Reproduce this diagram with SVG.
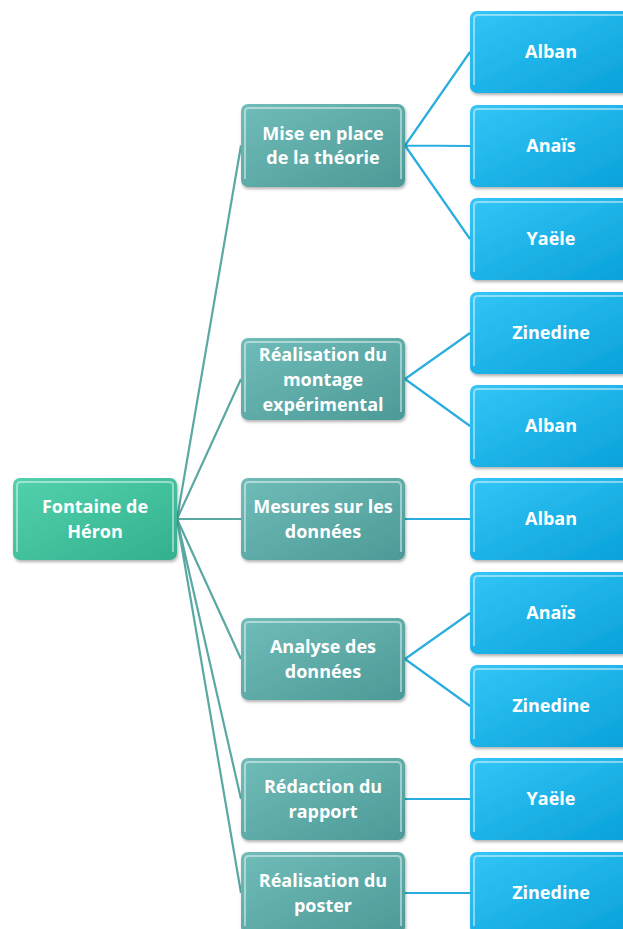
<svg xmlns="http://www.w3.org/2000/svg" width="623" height="929" viewBox="0 0 623 929">
<defs>
<linearGradient id="gRoot" x1="0" y1="0" x2="1" y2="1"><stop offset="0" stop-color="#52d2ac"/><stop offset="1" stop-color="#33b08e"/></linearGradient>
<linearGradient id="gMid" x1="0" y1="0" x2="1" y2="1"><stop offset="0" stop-color="#70bcb9"/><stop offset="1" stop-color="#4c9a97"/></linearGradient>
<linearGradient id="gLeaf" x1="0" y1="0" x2="1" y2="1"><stop offset="0" stop-color="#33c6f7"/><stop offset="1" stop-color="#08a0d8"/></linearGradient>
<filter id="sh" x="-10%" y="-10%" width="125%" height="130%"><feDropShadow dx="1" dy="2" stdDeviation="1.5" flood-color="#000" flood-opacity="0.3"/></filter>
</defs>
<style>
.box{filter:url(#sh)}
.hl{fill:none;stroke:#ffffff;stroke-opacity:0.45;stroke-width:2}
.t{font-family:"Open Sans","Lato",sans-serif;font-weight:700;font-size:18px;fill:#ffffff;text-anchor:middle}
.c1{stroke:#5aa8a4;stroke-width:2.2;fill:none}
.c2{stroke:#2aaedf;stroke-width:2.2;fill:none}
</style>
<g id="connectors">
<path class="c1" d="M177 519 L241 145.5 M177 519 L241 379 M177 519 L241 519 M177 519 L241 659 M177 519 L241 799 M177 519 L241 893"/>
<path class="c2" d="M405 145.5 L470 52 M405 145.5 L470 146 M405 145.5 L470 239 M405 379 L470 333 M405 379 L470 426 M405 519 L470 519 M405 659 L470 613 M405 659 L470 706 M405 799 L470 799 M405 893 L470 893"/>
</g>
<g id="root"><rect class="box" x="13" y="478" width="164" height="82" rx="7" fill="url(#gRoot)"/><path class="hl" d="M17 552 V486 Q17 482 21 482 H169 Q173 482 173 486 V552"/><text class="t" x="95" y="513">Fontaine de</text><text class="t" x="95" y="538">Héron</text></g>
<g id="m1"><rect class="box" x="241" y="104" width="164" height="83" rx="7" fill="url(#gMid)"/><path class="hl" d="M245 179 V112 Q245 108 249 108 H397 Q401 108 401 112 V179"/><text class="t" x="323" y="140">Mise en place</text><text class="t" x="323" y="164">de la théorie</text></g>
<g id="m2"><rect class="box" x="241" y="338" width="164" height="82" rx="7" fill="url(#gMid)"/><path class="hl" d="M245 412 V346 Q245 342 249 342 H397 Q401 342 401 346 V412"/><text class="t" x="323" y="361">Réalisation du</text><text class="t" x="323" y="386">montage</text><text class="t" x="323" y="411">expérimental</text></g>
<g id="m3"><rect class="box" x="241" y="478" width="164" height="82" rx="7" fill="url(#gMid)"/><path class="hl" d="M245 552 V486 Q245 482 249 482 H397 Q401 482 401 486 V552"/><text class="t" x="323" y="513">Mesures sur les</text><text class="t" x="323" y="538">données</text></g>
<g id="m4"><rect class="box" x="241" y="618" width="164" height="82" rx="7" fill="url(#gMid)"/><path class="hl" d="M245 692 V626 Q245 622 249 622 H397 Q401 622 401 626 V692"/><text class="t" x="323" y="653">Analyse des</text><text class="t" x="323" y="678">données</text></g>
<g id="m5"><rect class="box" x="241" y="758" width="164" height="82" rx="7" fill="url(#gMid)"/><path class="hl" d="M245 832 V766 Q245 762 249 762 H397 Q401 762 401 766 V832"/><text class="t" x="323" y="793">Rédaction du</text><text class="t" x="323" y="818">rapport</text></g>
<g id="m6"><rect class="box" x="241" y="852" width="164" height="82" rx="7" fill="url(#gMid)"/><path class="hl" d="M245 926 V860 Q245 856 249 856 H397 Q401 856 401 860 V926"/><text class="t" x="323" y="887">Réalisation du</text><text class="t" x="323" y="912">poster</text></g>
<g id="l1"><rect class="box" x="470" y="11" width="166" height="82" rx="7" fill="url(#gLeaf)"/><path class="hl" d="M474 85 V19 Q474 15 478 15 H636"/><text class="t" x="551" y="58">Alban</text></g>
<g id="l2"><rect class="box" x="470" y="105" width="166" height="82" rx="7" fill="url(#gLeaf)"/><path class="hl" d="M474 179 V113 Q474 109 478 109 H636"/><text class="t" x="551" y="152">Anaïs</text></g>
<g id="l3"><rect class="box" x="470" y="198" width="166" height="82" rx="7" fill="url(#gLeaf)"/><path class="hl" d="M474 272 V206 Q474 202 478 202 H636"/><text class="t" x="551" y="245">Yaële</text></g>
<g id="l4"><rect class="box" x="470" y="292" width="166" height="82" rx="7" fill="url(#gLeaf)"/><path class="hl" d="M474 366 V300 Q474 296 478 296 H636"/><text class="t" x="551" y="339">Zinedine</text></g>
<g id="l5"><rect class="box" x="470" y="385" width="166" height="82" rx="7" fill="url(#gLeaf)"/><path class="hl" d="M474 459 V393 Q474 389 478 389 H636"/><text class="t" x="551" y="432">Alban</text></g>
<g id="l6"><rect class="box" x="470" y="478" width="166" height="82" rx="7" fill="url(#gLeaf)"/><path class="hl" d="M474 552 V486 Q474 482 478 482 H636"/><text class="t" x="551" y="525">Alban</text></g>
<g id="l7"><rect class="box" x="470" y="572" width="166" height="82" rx="7" fill="url(#gLeaf)"/><path class="hl" d="M474 646 V580 Q474 576 478 576 H636"/><text class="t" x="551" y="619">Anaïs</text></g>
<g id="l8"><rect class="box" x="470" y="665" width="166" height="82" rx="7" fill="url(#gLeaf)"/><path class="hl" d="M474 739 V673 Q474 669 478 669 H636"/><text class="t" x="551" y="712">Zinedine</text></g>
<g id="l9"><rect class="box" x="470" y="758" width="166" height="82" rx="7" fill="url(#gLeaf)"/><path class="hl" d="M474 832 V766 Q474 762 478 762 H636"/><text class="t" x="551" y="805">Yaële</text></g>
<g id="l10"><rect class="box" x="470" y="852" width="166" height="82" rx="7" fill="url(#gLeaf)"/><path class="hl" d="M474 926 V860 Q474 856 478 856 H636"/><text class="t" x="551" y="899">Zinedine</text></g>
</svg>
